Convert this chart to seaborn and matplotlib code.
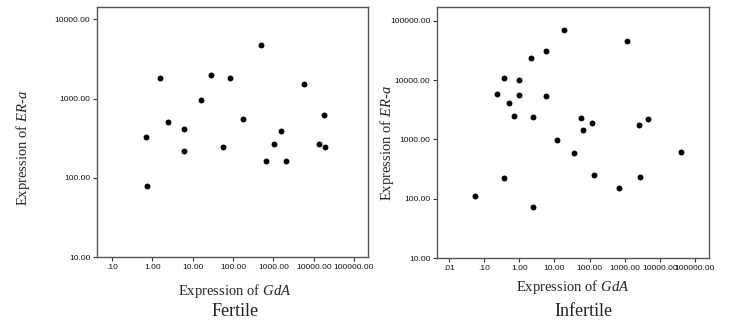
import numpy as np
import pandas as pd
import seaborn as sns
import matplotlib
matplotlib.use("Agg")
import matplotlib.pyplot as plt
from matplotlib.ticker import FixedLocator, FixedFormatter, NullLocator

# ---- data ----
fertile_gda = [0.68, 0.74, 1.58, 2.44, 6.17, 6.05, 15.6, 28.6, 56.6, 85.9,
               177, 482, 665, 1028, 1531, 2036, 5770, 13280, 17660, 19050]
fertile_er = [332, 79, 1840, 513, 410, 217, 962, 2010, 244, 1802,
              548, 4700, 162, 268, 391, 165, 1531, 266, 617, 248]

infertile_gda = [0.057, 0.237, 0.374, 0.366, 0.508, 0.69, 0.957, 0.98, 2.2, 2.45,
                 2.45, 5.62, 5.87, 18.7, 11.8, 36.8, 55.7, 66.4, 114.6, 136,
                 672, 1135, 2600, 2660, 4700, 40800]
infertile_er = [112, 5830, 11000, 228, 4120, 2490, 9910, 5610, 23200, 2370,
                73, 30900, 5400, 69600, 982, 601, 2300, 1430, 1923, 250,
                153, 44900, 1780, 231, 2190, 617]

fert_xticks = [0.1, 1, 10, 100, 1000, 10000, 100000]
fert_xlabels = [".10", "1.00", "10.00", "100.00", "1000.00", "10000.00", "100000.00"]
fert_yticks = [10, 100, 1000, 10000]
fert_ylabels = ["10.00", "100.00", "1000.00", "10000.00"]

inf_xticks = [0.01, 0.1, 1, 10, 100, 1000, 10000, 100000]
inf_xlabels = [".01", ".10", "1.00", "10.00", "100.00", "1000.00", "10000.00", "100000.00"]
inf_yticks = [10, 100, 1000, 10000, 100000]
inf_ylabels = ["10.00", "100.00", "1000.00", "10000.00", "100000.00"]

xlabel_text = r"Expression of $\mathit{GdA}$"
ylabel_text = r"Expression of $\mathit{ER}$-$\mathit{a}$"
titles = ["Fertile", "Infertile"]

# ---- style ----
sns.set_theme(style="white")
plt.rcParams["font.family"] = ["Liberation Sans", "DejaVu Sans"]
plt.rcParams["mathtext.fontset"] = "custom"
plt.rcParams["mathtext.rm"] = "Liberation Serif"
plt.rcParams["mathtext.it"] = "Liberation Serif:italic"

fig = plt.figure(figsize=(7.39, 3.27), dpi=100)
ax1 = fig.add_axes([0.1317, 0.2131, 0.3659, 0.7664])
ax2 = fig.add_axes([0.5917, 0.2101, 0.3677, 0.7676])

df1 = pd.DataFrame({"gda": fertile_gda, "er": fertile_er})
df2 = pd.DataFrame({"gda": infertile_gda, "er": infertile_er})

panels = [
    (ax1, df1, fert_xticks, fert_xlabels, fert_yticks, fert_ylabels, (0.043, 219000), (10, 14400)),
    (ax2, df2, inf_xticks, inf_xlabels, inf_yticks, inf_ylabels, (0.00466, 251000), (10, 167500)),
]

for ax, df, xt, xl, yt, yl, xlim, ylim in panels:
    sns.scatterplot(data=df, x="gda", y="er", ax=ax, color="black", s=18,
                    linewidth=0, legend=False)
    ax.set_xscale("log")
    ax.set_yscale("log")
    ax.set_xlim(*xlim)
    ax.set_ylim(*ylim)
    ax.xaxis.set_major_locator(FixedLocator(xt))
    ax.xaxis.set_major_formatter(FixedFormatter(xl))
    ax.yaxis.set_major_locator(FixedLocator(yt))
    ax.yaxis.set_major_formatter(FixedFormatter(yl))
    ax.xaxis.set_minor_locator(NullLocator())
    ax.yaxis.set_minor_locator(NullLocator())
    ax.tick_params(axis="both", which="major", direction="out", length=3, width=0.8,
                   color="#333333", labelsize=6, pad=2, labelcolor="#111111",
                   bottom=True, left=True)
    for sp in ax.spines.values():
        sp.set_color("#555555")
        sp.set_linewidth(1.0)
    ax.set_xlabel("")
    ax.set_ylabel("")

serif = ["Liberation Serif", "DejaVu Serif"]
W, H = 739.0, 327.0
fig.text(235.0 / W, 1 - 291.5 / H, xlabel_text, ha="center", va="center", fontsize=10.5,
         family=serif, color="#222222")
fig.text(235.0 / W, 1 - 312.0 / H, titles[0], ha="center", va="center", fontsize=13,
         family=serif, color="#222222")
fig.text(23.0 / W, 1 - 148.0 / H, ylabel_text, ha="center", va="center", rotation=90,
         fontsize=10.5, family=serif, color="#222222")

fig.text(573.0 / W, 1 - 287.5 / H, xlabel_text, ha="center", va="center", fontsize=10.5,
         family=serif, color="#222222")
fig.text(583.0 / W, 1 - 311.0 / H, titles[1], ha="center", va="center", fontsize=13,
         family=serif, color="#222222")
fig.text(386.5 / W, 1 - 143.5 / H, ylabel_text, ha="center", va="center", rotation=90,
         fontsize=10.5, family=serif, color="#222222")

fig.savefig("out.png", dpi=100)
